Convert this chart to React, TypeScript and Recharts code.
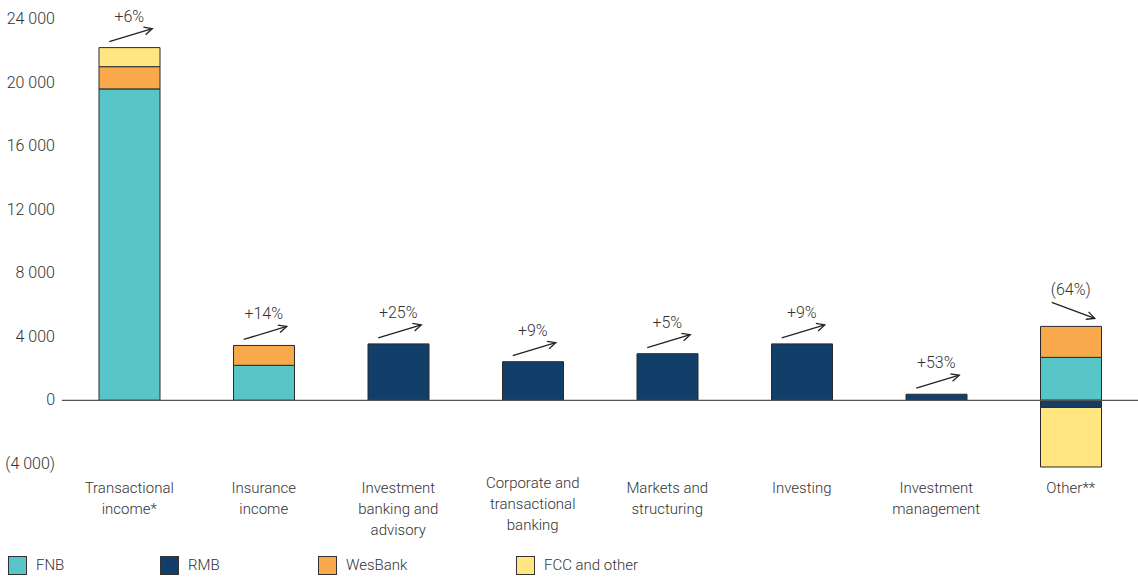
import React from "react";
import { ComposedChart, Bar, Line, XAxis, YAxis, ReferenceLine } from "recharts";

const categories = [
  "Transactional\nincome*",
  "Insurance\nincome",
  "Investment\nbanking and\nadvisory",
  "Corporate and\ntransactional\nbanking",
  "Markets and\nstructuring",
  "Investing",
  "Investment\nmanagement",
  "Other**",
];
const fnb = [19600, 2200, 0, 0, 0, 0, 0, 2700];
const rmb = [0, 0, 3550, 2430, 2930, 3550, 380, -450];
const wesbank = [1400, 1250, 0, 0, 0, 0, 0, 1950];
const fcc = [1200, 0, 0, 0, 0, 0, 0, -3750];
const growth = ["+6%", "+14%", "+25%", "+9%", "+5%", "+9%", "+53%", "(64%)"];
const yTicks = [-4000, 0, 4000, 8000, 12000, 16000, 20000, 24000];

const seriesNames = ["FNB", "RMB", "WesBank", "FCC and other"];
const colors = ["#58C6C8", "#123F69", "#F9A94B", "#FFE681"];

const data = categories.map((c, i) => {
  const vals = [fnb[i], rmb[i], wesbank[i], fcc[i]];
  const top = vals.filter((v) => v > 0).reduce((a, b) => a + b, 0);
  return {
    name: c,
    fnb: fnb[i] || null,
    rmb: rmb[i] || null,
    wesbank: wesbank[i] || null,
    fcc: fcc[i] || null,
    top,
    growth: growth[i],
  };
});

const FONT = "'Liberation Sans Narrow', 'Roboto', sans-serif";
const FW = 300;
const FS = 15;
const TEXT = "#333";

const fmt = (v: number) => {
  const s = Math.abs(v).toString().replace(/\B(?=(\d{3})+(?!\d))/g, " ");
  return v < 0 ? `(${s})` : s;
};

const YTick = (props: any) => {
  const { y, payload } = props;
  return (
    <text x={55} y={y} dy={5} textAnchor="end" fontFamily={FONT} fontWeight={FW} fontSize={FS + 1} fill={TEXT}>
      {fmt(payload.value)}
    </text>
  );
};

const XTick = (props: any) => {
  const { x, payload } = props;
  const lines = String(payload.value).split("\n");
  const shift = lines[0].startsWith("Corporate") ? -5 : 0;
  return (
    <text x={x} y={493 + shift} textAnchor="middle" fontFamily={FONT} fontWeight={FW} fontSize={FS} fill={TEXT}>
      {lines.map((l, i) => (
        <tspan key={i} x={x} dy={i === 0 ? 0 : 21}>
          {l}
        </tspan>
      ))}
    </text>
  );
};

const Arrow = ({ x1, y1, x2, y2 }: any) => {
  const ang = Math.atan2(y2 - y1, x2 - x1);
  const len = 9;
  const a1 = ang + Math.PI - 0.45;
  const a2 = ang + Math.PI + 0.45;
  return (
    <g stroke="#222" strokeWidth={1.3} fill="none">
      <line x1={x1} y1={y1} x2={x2} y2={y2} />
      <polyline
        points={`${x2 + len * Math.cos(a1)},${y2 + len * Math.sin(a1)} ${x2},${y2} ${x2 + len * Math.cos(a2)},${y2 + len * Math.sin(a2)}`}
      />
    </g>
  );
};

const GrowthDot = (props: any) => {
  const { cx, cy, payload, index } = props;
  if (cx == null || cy == null) return <g key={index} />;
  const down = String(payload.growth).startsWith("(");
  return (
    <g key={index}>
      {down ? (
        <>
          <text x={cx} y={cy - 36} dy={5} textAnchor="middle" fontFamily={FONT} fontWeight={FW} fontSize={FS + 1} fill={TEXT}>
            {payload.growth}
          </text>
          <Arrow x1={cx - 19} y1={cy - 24} x2={cx + 24} y2={cy - 8} />
        </>
      ) : (
        <>
          <text x={cx} y={cy - 31} dy={5} textAnchor="middle" fontFamily={FONT} fontWeight={FW} fontSize={FS + 1} fill={TEXT}>
            {payload.growth}
          </text>
          <Arrow x1={cx - 20} y1={cy - 6} x2={cx + 23} y2={cy - 19} />
        </>
      )}
    </g>
  );
};

const legendX = [8, 160, 318, 516];

export default function App() {
  return (
    <div style={{ position: "absolute", left: 0, top: 0, width: 1138, height: 577, background: "#fff" }}>
      <ComposedChart
        width={1138}
        height={577}
        data={data}
        stackOffset="sign"
        margin={{ top: 19, right: 0, bottom: 0, left: 0 }}
      >
        <YAxis
          domain={[-4000, 24000]}
          ticks={yTicks}
          width={62}
          axisLine={false}
          tickLine={false}
          tick={<YTick />}
          interval={0}
        />
        <XAxis dataKey="name" axisLine={false} tickLine={false} tick={<XTick />} interval={0} height={110} />
        <ReferenceLine y={0} stroke="#555" strokeWidth={1.2} />
        <Bar dataKey="fnb" stackId="a" fill={colors[0]} stroke="#2a2a2a" strokeWidth={1} barSize={61} isAnimationActive={false} />
        <Bar dataKey="rmb" stackId="a" fill={colors[1]} stroke="#2a2a2a" strokeWidth={1} barSize={61} isAnimationActive={false} />
        <Bar dataKey="wesbank" stackId="a" fill={colors[2]} stroke="#2a2a2a" strokeWidth={1} barSize={61} isAnimationActive={false} />
        <Bar dataKey="fcc" stackId="a" fill={colors[3]} stroke="#2a2a2a" strokeWidth={1} barSize={61} isAnimationActive={false} />
        <Line dataKey="top" stroke="none" dot={<GrowthDot />} activeDot={false} isAnimationActive={false} legendType="none" />
      </ComposedChart>
      {seriesNames.map((n, i) => (
        <div
          key={n}
          style={{ position: "absolute", left: legendX[i], top: 556, display: "flex", alignItems: "center", fontFamily: FONT, fontWeight: FW, fontSize: FS, color: TEXT, lineHeight: "19px" }}
        >
          <span style={{ display: "inline-block", width: 17, height: 17, background: colors[i], border: "1px solid #333", marginRight: 9 }} />
          <span>{n}</span>
        </div>
      ))}
    </div>
  );
}
